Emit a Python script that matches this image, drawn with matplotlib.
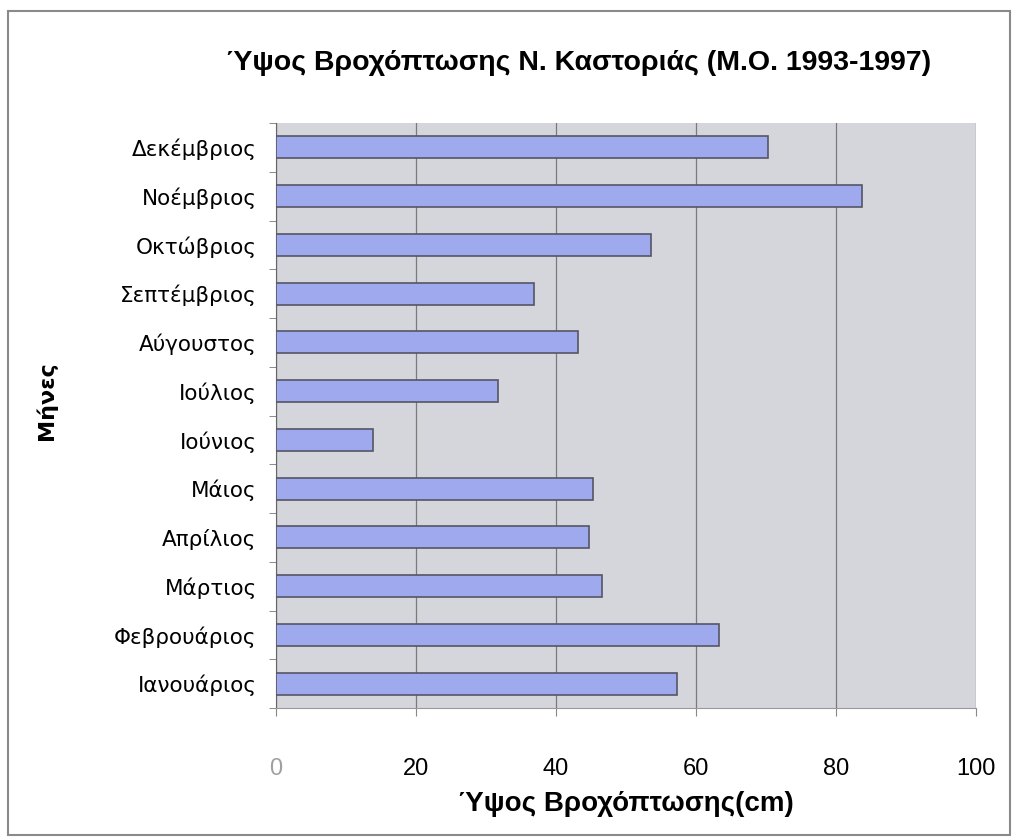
import numpy as np
import matplotlib.pyplot as plt
from matplotlib.patches import Rectangle

plt.rcParams['font.family'] = ['Liberation Sans', 'DejaVu Sans']

# Months (bottom to top) and rainfall height in cm
months = ['Ιανουάριος', 'Φεβρουάριος', 'Μάρτιος', 'Απρίλιος', 'Μάιος', 'Ιούνιος',
          'Ιούλιος', 'Αύγουστος', 'Σεπτέμβριος', 'Οκτώβριος', 'Νοέμβριος', 'Δεκέμβριος']
rain = [57.3, 63.3, 46.6, 44.7, 45.3, 13.9, 31.7, 43.1, 36.9, 53.6, 83.7, 70.3]
xticks = [0, 20, 40, 60, 80, 100]

fig = plt.figure(figsize=(10.15, 8.39), dpi=100)
fig.patches.append(Rectangle((0.008, 0.005), 0.987, 0.982, transform=fig.transFigure,
                             fill=False, edgecolor='#8a8a8a', linewidth=1.5))

ax = fig.add_axes([0.272, 0.1561, 0.6896, 0.6973])
ax.set_facecolor('#d5d5dc')

y = np.arange(len(months))
ax.barh(y, rain, height=0.45, color='#9fa9ee', edgecolor='#555566', linewidth=1.2, zorder=3)

ax.set_xlim(0, 100)
ax.set_ylim(-0.5, len(months) - 0.5)
ax.set_xticks(xticks)
ax.set_xticklabels([str(t) for t in xticks], fontsize=17)
ax.get_xticklabels()[0].set_color('#a0a0a0')
ax.set_yticks(y)
ax.set_yticklabels(months, fontsize=15.5, family='DejaVu Sans')
ax.set_yticks(np.arange(len(months) + 1) - 0.5, minor=True)
ax.tick_params(axis='y', which='major', length=0, pad=14)
ax.tick_params(axis='y', which='minor', length=5, color='#777777', direction='out')
ax.tick_params(axis='x', length=6, color='#888888', direction='out', pad=30)

ax.grid(axis='x', color='#7a7a7a', linewidth=0.9, zorder=1)
for s in ['top', 'right']:
    ax.spines[s].set_visible(False)
ax.spines['left'].set_color('#666666')
ax.spines['bottom'].set_color('#999999')

fig.text(0.57, 0.925, 'Ύψος Βροχόπτωσης Ν. Καστοριάς (Μ.Ο. 1993-1997)',
         ha='center', va='center', fontsize=20.5, fontweight='bold')
ax.set_xlabel('Ύψος Βροχόπτωσης(cm)', fontsize=20, fontweight='bold', labelpad=8)
fig.text(0.046, 0.523, 'Μήνες', rotation=90, ha='center', va='center',
         fontsize=16, fontweight='bold', family='DejaVu Sans')

fig.savefig('out.png', dpi=100)
